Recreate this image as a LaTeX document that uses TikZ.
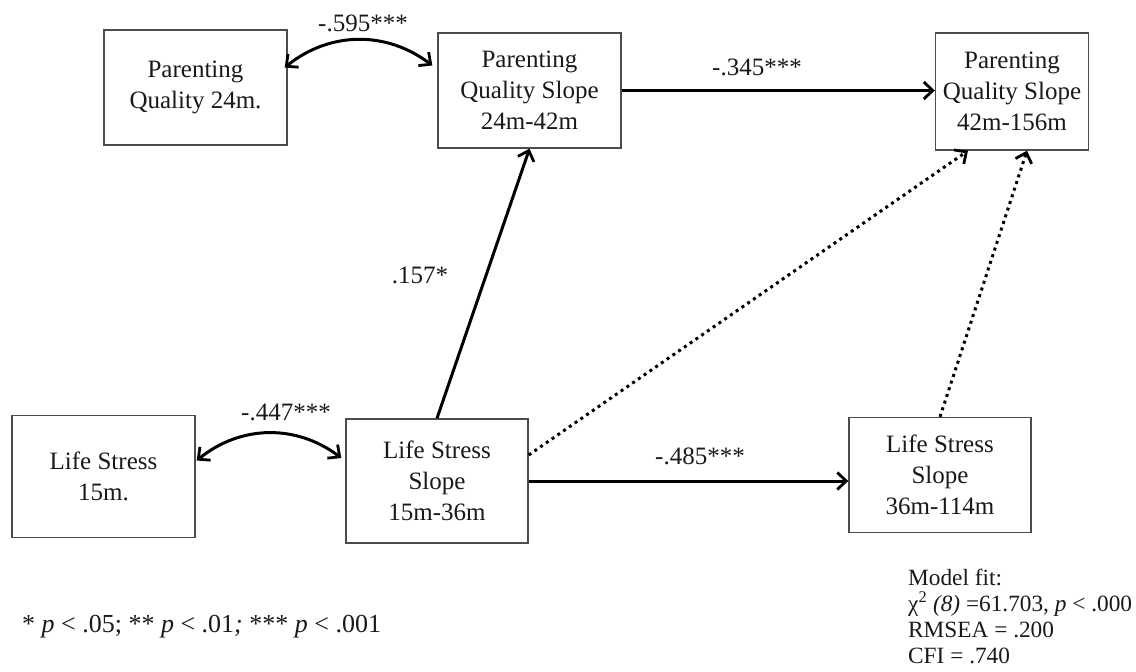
\documentclass[tikz,border=0pt]{standalone}
\usepackage{fontspec}
\setmainfont{Liberation Serif}
\usetikzlibrary{arrows.meta}
\begin{document}
\begin{tikzpicture}[x=1pt,y=-1pt,
  box/.style={draw=black!70,line width=1.4pt,align=center,inner sep=0pt,
    font=\fontsize{25}{31}\selectfont,text=black!90},
  lbl/.style={font=\fontsize{25}{30}\selectfont,text=black!90,inner sep=0pt},
  path/.style={line width=3pt,-{Straight Barb[length=9pt,width=17pt,line width=2.8pt]}},
  cov/.style={line width=3pt,{Straight Barb[length=9pt,width=17pt,line width=2.8pt]}-{Straight Barb[length=9pt,width=17pt,line width=2.8pt]}},
  dotpath/.style={path,dash pattern=on 3pt off 4pt}
]
\useasboundingbox (0,0) rectangle (1136,672);
\node[box,minimum width=183pt,minimum height=115pt] (PQ24) at (195.5,87.5) {Parenting\\Quality 24m.};
\node[box,minimum width=183pt,minimum height=115pt] (PQS1) at (529.5,90.5) {Parenting\\Quality Slope\\24m-42m};
\node[box,minimum width=153pt,minimum height=117pt] (PQS2) at (1012,91.5) {Parenting\\Quality Slope\\42m-156m};
\node[box,minimum width=183pt,minimum height=122pt] (LS15) at (103.5,476.5) {Life Stress\\15m.};
\node[box,minimum width=182pt,minimum height=124pt] (LSS1) at (437,481) {Life Stress\\Slope\\15m-36m};
\node[box,minimum width=182pt,minimum height=115pt] (LSS2) at (940,475) {Life Stress\\Slope\\36m-114m};

\draw[cov] ([yshift=20pt,xshift=-3pt]PQ24.east) to[bend left=38] ([yshift=25pt,xshift=-5pt]PQS1.west);
\draw[cov] ([yshift=16pt,xshift=1pt]LS15.east) to[bend left=38] ([yshift=23pt,xshift=-4pt]LSS1.west);
\draw[path] (PQS1.east) -- (PQS1.east -| PQS2.west);
\draw[path] (LSS1.east) -- (LSS1.east -| LSS2.west);
\draw[path] (LSS1.north) -- (PQS1.south);
\draw[dotpath] ([yshift=26pt]LSS1.east) -- ([xshift=-44pt]PQS2.south);
\draw[dotpath] (LSS2.north) -- ([xshift=15pt]PQS2.south);

\node[lbl] (l1) at (363,23) {-.595***};
\node[lbl] (l2) at (757,67) {-.345***};
\node[lbl] (l3) at (420,275) {.157*};
\node[lbl] (l4) at (286,412) {-.447***};
\node[lbl] (l5) at (700,456) {-.485***};

\node[anchor=west,inner sep=0pt,font=\fontsize{26}{26}\selectfont,text=black!90] (foot) at (22,627)
  {* \textit{p} < .05; ** \textit{p} < .01\textit{;} *** \textit{p} < .001};
\node[anchor=north west,align=left,inner sep=0pt,font=\fontsize{23.3}{26}\selectfont,text=black!90] (fit) at (908,569)
  {Model fit:\\ χ\textsuperscript{2} \textit{(8)} =61.703, \textit{p} < .000\\ RMSEA = .200\\ CFI = .740};
\end{tikzpicture}
\end{document}
